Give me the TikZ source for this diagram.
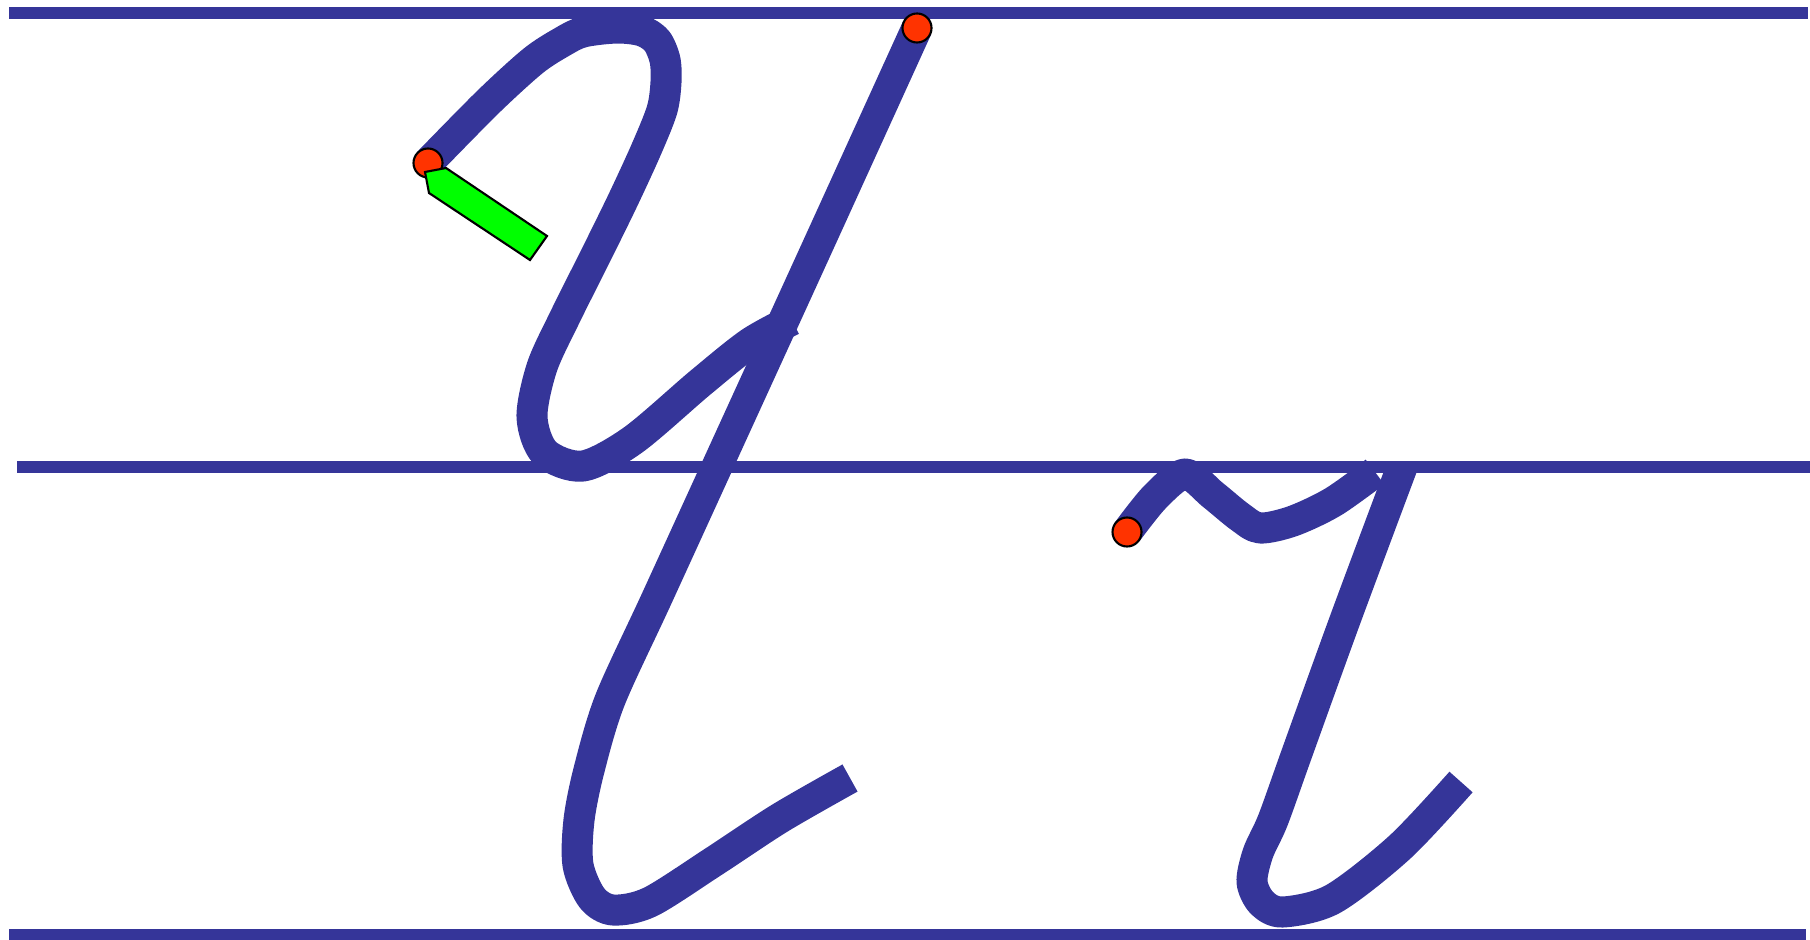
\documentclass[tikz,border=0pt]{standalone}
\usepackage{xcolor}
\usepackage{tikz}
\usetikzlibrary{positioning}
\definecolor{ink}{HTML}{353599}
\definecolor{dotred}{HTML}{FF3300}
\definecolor{pengreen}{HTML}{00FF00}

\begin{document}
\begin{tikzpicture}[x=0.01cm, y=-0.01cm,
    rule/.style={ink, line width=0.12cm},
    pen/.style={ink, line width=0.31cm, line join=round},
    startdot/.style={circle, draw=black, line width=0.6pt, fill=dotred,
                     minimum size=0.29cm, inner sep=0pt}]
  \useasboundingbox (0,0) rectangle (1810,940);
  % ruling
  \draw[rule] (9,13) -- (1808,13);
  \draw[rule] (17,467) -- (1810,467);
  \draw[rule] (9,935) -- (1806,935);
  % first letter
  \draw[pen] plot[smooth, tension=0.5] coordinates {(428,163) (488,102) (533,61)
    (562,42) (583,32) (617,28) (642,31) (657,41) (665,60) (666,82) (662,110)
    (646,150) (623,200) (597,253) (565,317) (542,367) (532,417) (545,453)
    (583,466) (633,440) (700,383) (750,343) (792,320)};
  \draw[pen] plot[smooth, tension=0.5] coordinates {(917,28) (815,252) (720,460)
    (656,600) (610,700) (589,770) (579,820) (578,865) (592,898) (613,910)
    (650,902) (713,862) (780,818) (850,778)};
  % second letter
  \draw[pen] plot[smooth, tension=0.5] coordinates {(1127,532) (1155,497)
    (1185,474) (1213,495) (1240,517) (1260,528) (1293,521) (1333,502) (1375,472)};
  \draw[pen] plot[smooth, tension=0.5] coordinates {(1402,467) (1345,620)
    (1297,753) (1273,820) (1258,853) (1252,882) (1262,903) (1283,912)
    (1333,899) (1400,847) (1461,782)};
  % start points
  \node[startdot] (startA) at (428,163) {};
  \node[startdot] (startB) at (917,28) {};
  \node[startdot] (startC) at (1127,532) {};
  % direction arrow
  \draw[black, line width=0.6pt, fill=pengreen] (425,172) -- (446,168)
    -- (547,236) -- (530,260) -- (429,193) -- cycle;
\end{tikzpicture}
\end{document}
